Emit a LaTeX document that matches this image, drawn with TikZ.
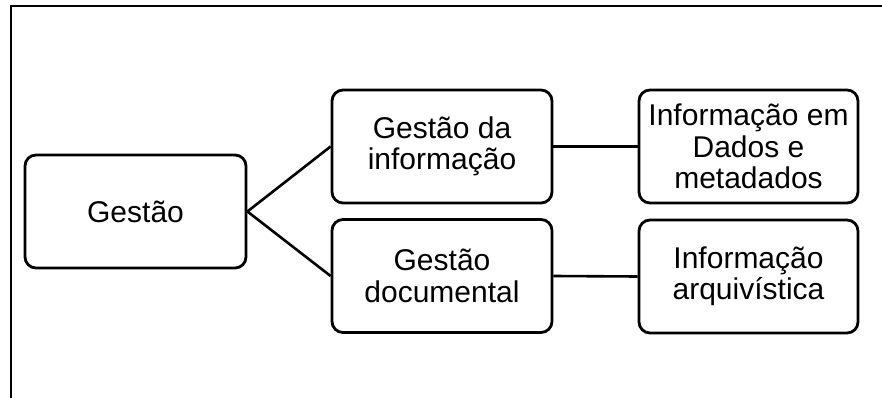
\documentclass[tikz,border=0pt]{standalone}
\usepackage{fontspec}
\setmainfont{Liberation Sans}
\begin{document}
\begin{tikzpicture}[x=1pt,y=-1pt,
  box/.style={draw=black, line width=2.8pt, rounded corners=11pt, fill=white,
    minimum width=220pt, minimum height=113pt, inner sep=0pt, align=center,
    font=\fontsize{30}{31.5}\selectfont},
  link/.style={draw=black, line width=2.6pt}]
\useasboundingbox (0,0) rectangle (882,398);
\draw[line width=2.8pt] (11,400) -- (11,6) -- (884,6);
\node[box, minimum width=221pt] (g) at (135.5,211.5) {Gestão};
\node[box] (gi) at (442,146.5) {Gestão da\\informação};
\node[box] (gd) at (442,276) {Gestão\\documental};
\node[box, minimum width=219pt] (id) at (748.5,146.5) {Informação em\\Dados e\\metadados};
\node[box, minimum width=219pt] (ia) at (748.5,276.5) {Informação\\arquivística};
\draw[link] (g.east) -- (gi.west);
\draw[link] (g.east) -- (gd.west);
\draw[link] (gi.east) -- (id.west);
\draw[link] (gd.east) -- (ia.west);
\end{tikzpicture}
\end{document}
